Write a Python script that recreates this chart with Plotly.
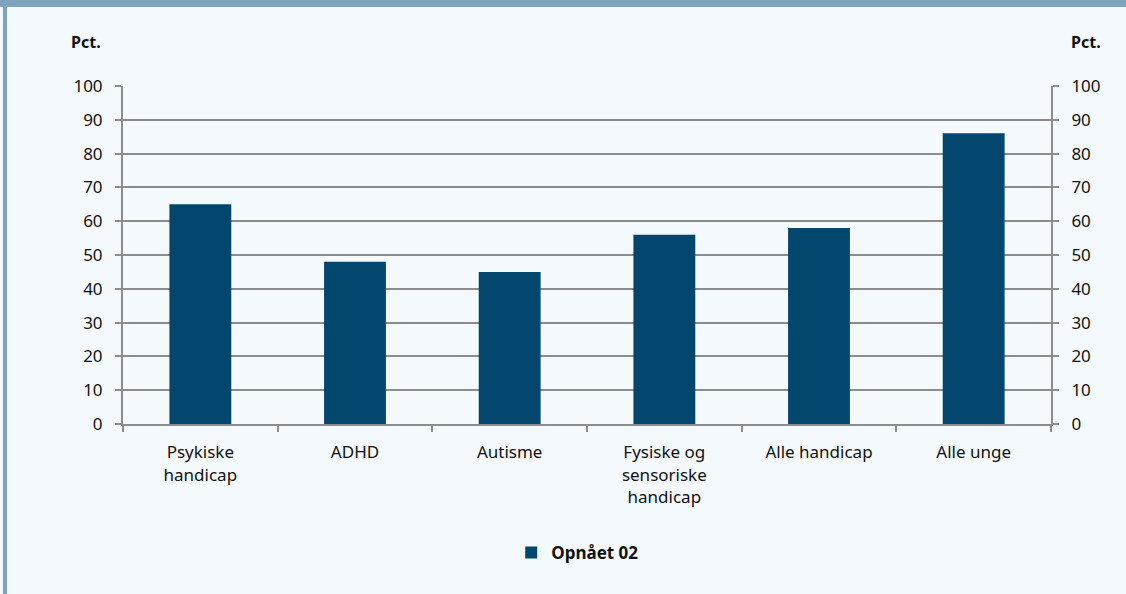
import plotly.graph_objects as go

categories = ["Psykiske<br>handicap", "ADHD", "Autisme", "Fysiske og<br>sensoriske<br>handicap", "Alle handicap", "Alle unge"]
values = [65, 48, 45, 56, 58, 86]
series_name = "Opnået 02"
y_ticks = [0, 10, 20, 30, 40, 50, 60, 70, 80, 90, 100]

bar_color = "#03466e"
grid_color = "#8c8c8c"
bg = "#f4f9fd"
frame_color = "#7fa3ba"
font_family = "Noto Sans, Open Sans, sans-serif"

L, R, T, B = 123, 75, 86, 170
PW, PH = 1126 - L - R, 594 - T - B

fig = go.Figure()
fig.add_trace(go.Bar(x=categories, y=values, name=series_name, marker_color=bar_color,
                     marker_line_width=0, yaxis="y"))
fig.add_trace(go.Bar(x=categories, y=[None]*len(categories), yaxis="y2", showlegend=False,
                     hoverinfo="skip"))

axis_common = dict(range=[0, 100], tickvals=y_ticks, showline=True, linecolor=grid_color,
                   linewidth=2, ticks="outside", ticklen=6, tickcolor=grid_color, tickwidth=2,
                   zeroline=False, tickfont=dict(size=17), ticklabelstandoff=9)

fig.update_layout(
    width=1126, height=594,
    paper_bgcolor=bg, plot_bgcolor=bg,
    margin=dict(l=L, r=R, t=T, b=B, autoexpand=False),
    font=dict(family=font_family, size=17, color="#111111"),
    bargap=0.6,
    barmode="overlay",
    xaxis=dict(type="category", showline=True, linecolor=grid_color, linewidth=2,
               ticks="outside", tickson="boundaries", ticklen=6, tickcolor=grid_color,
               tickwidth=2, showgrid=False, tickfont=dict(size=17), ticklabelstandoff=12),
    yaxis=dict(**axis_common, showgrid=True, gridcolor=grid_color, gridwidth=2),
    yaxis2=dict(**axis_common, overlaying="y", side="right", showgrid=False),
    legend=dict(orientation="h", x=0.49, xanchor="center", y=(T + PH - 553) / PH, yanchor="middle",
                font=dict(size=17, family=font_family, weight="bold"),
                itemwidth=30, bgcolor="rgba(0,0,0,0)"),
    showlegend=True,
)

fig.add_annotation(text="<b>Pct.</b>", xref="paper", yref="paper", x=(103 - L) / PW, y=1 + (T - 42) / PH,
                   xanchor="right", yanchor="middle", showarrow=False,
                   font=dict(size=16, family=font_family, color="#111111"))
fig.add_annotation(text="<b>Pct.</b>", xref="paper", yref="paper", x=(1103 - L) / PW, y=1 + (T - 42) / PH,
                   xanchor="right", yanchor="middle", showarrow=False,
                   font=dict(size=16, family=font_family, color="#111111"))

# frame: top band and left stripe
fig.add_shape(type="rect", xref="paper", yref="paper", x0=-0.3, x1=1.3,
              y0=1 + (T - 7) / PH, y1=1 + (T + 5) / PH,
              fillcolor=frame_color, line_width=0, layer="above")
fig.add_shape(type="rect", xref="paper", yref="paper", x0=(3 - L) / PW, x1=(7 - L) / PW,
              y0=-(B + 5) / PH, y1=1 + (T + 5) / PH,
              fillcolor=frame_color, line_width=0, layer="above")

fig.write_html("out.html", config={"displayModeBar": False},
               post_script="document.body.style.margin='0';document.body.style.overflow='hidden';")
